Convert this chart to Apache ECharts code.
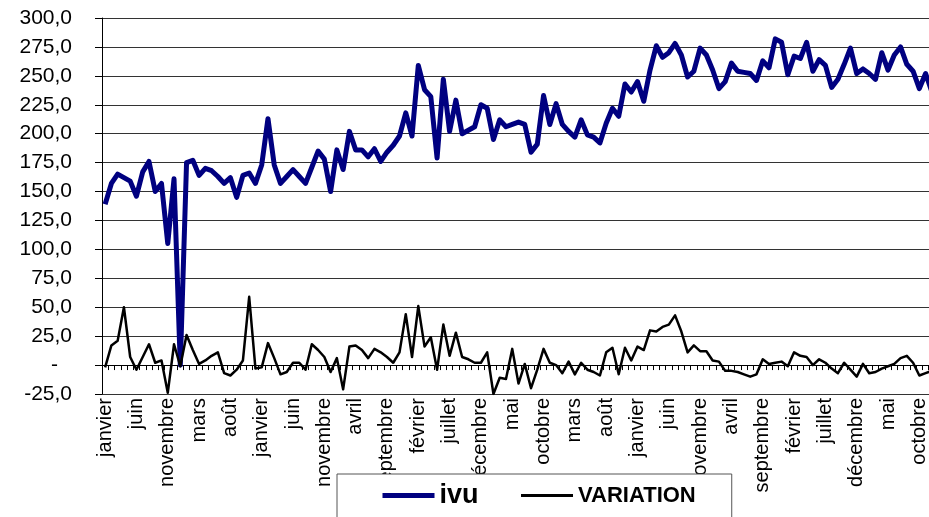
<!DOCTYPE html>
<html>
<head>
  <meta charset="UTF-8">
  <title>ivu / VARIATION</title>
  <style>
    html, body { margin: 0; padding: 0; background: #fff; }
    #chart { width: 929px; height: 517px; }
  </style>
  <script src="https://cdn.jsdelivr.net/npm/echarts@6/dist/echarts.min.js"></script>
</head>
<body>
<div id="chart"></div>
<script>
  // mois (une entrée de plus la première année, comme dans la feuille d'origine)
  var categories = [
    'janvier', 'février', 'mars', 'avril', 'mai', 'juin', 'juillet', 'août', 'septembre', 'octobre', 'novembre', 'décembre', 'décembre',
    'janvier', 'février', 'mars', 'avril', 'mai', 'juin', 'juillet', 'août', 'septembre', 'octobre', 'novembre', 'décembre',
    'janvier', 'février', 'mars', 'avril', 'mai', 'juin', 'juillet', 'août', 'septembre', 'octobre', 'novembre', 'décembre',
    'janvier', 'février', 'mars', 'avril', 'mai', 'juin', 'juillet', 'août', 'septembre', 'octobre', 'novembre', 'décembre',
    'janvier', 'février', 'mars', 'avril', 'mai', 'juin', 'juillet', 'août', 'septembre', 'octobre', 'novembre', 'décembre',
    'janvier', 'février', 'mars', 'avril', 'mai', 'juin', 'juillet', 'août', 'septembre', 'octobre', 'novembre', 'décembre',
    'janvier', 'février', 'mars', 'avril', 'mai', 'juin', 'juillet', 'août', 'septembre', 'octobre', 'novembre', 'décembre',
    'janvier', 'février', 'mars', 'avril', 'mai', 'juin', 'juillet', 'août', 'septembre', 'octobre', 'novembre', 'décembre',
    'janvier', 'février', 'mars', 'avril', 'mai', 'juin', 'juillet', 'août', 'septembre', 'octobre', 'novembre', 'décembre',
    'janvier', 'février', 'mars', 'avril', 'mai', 'juin', 'juillet', 'août', 'septembre', 'octobre', 'novembre', 'décembre',
    'janvier', 'février', 'mars', 'avril', 'mai', 'juin', 'juillet', 'août', 'septembre', 'octobre', 'novembre', 'décembre'
  ];

  var ivu = [
    139, 157, 165, 162, 159, 146, 167, 176, 150, 157,
    105, 161, 0, 175, 177, 164, 170, 168, 163, 157,
    162, 145, 164, 166, 157, 173, 213, 173, 157, 163,
    169, 163, 157, 171, 185, 178, 150, 186, 169, 202,
    186, 186, 180, 187, 176, 184, 190, 198, 218, 198,
    259, 238, 232, 179, 247, 202, 229, 200, 203, 206,
    225, 222, 195, 212, 206, 208, 210, 208, 184, 191,
    233, 208, 226, 208, 202, 197, 212, 199, 197, 192,
    209, 222, 215, 243, 236, 245, 228, 255, 276, 266,
    270, 278, 268, 249, 254, 274, 268, 255, 239, 245,
    261, 254, 253, 252, 246, 263, 257, 282, 279, 251,
    267, 265, 279, 254, 264, 259, 240, 247, 260, 274,
    252, 256, 252, 247, 270, 255, 268, 275, 260, 254,
    239, 252, 236
  ];

  var variation = [
    -2, 17, 21, 50, 7, -4, 7, 18, 2, 4,
    -24, 18, -1, 26, 13, 1, 4, 8, 11, -7,
    -9, -4, 4, 59, -3, -2, 19, 6, -8, -6,
    2, 2, -4, 18, 13, 7, -6, 6, -21, 16,
    17, 13, 6, 14, 11, 7, 2, 11, 44, 7,
    51, 16, 24, -4, 35, 8, 28, 7, 5, 2,
    2, 11, -25, -11, -12, 14, -16, 1, -20, -4,
    14, 2, 0, -7, 3, -8, 2, -4, -6, -9,
    11, 15, -8, 15, 4, 16, 13, 30, 29, 33,
    35, 43, 29, 11, 17, 12, 12, 4, 3, -5,
    -5, -6, -8, -10, -8, 5, 1, 2, 3, -1,
    11, 8, 7, 0, 5, 2, -3, -7, 2, -4,
    -10, 1, -7, -6, -3, -1, 1, 6, 8, 2,
    -9, -7, -5
  ];

  var font = 'Liberation Sans, Arial, sans-serif';
  var chart = echarts.init(document.getElementById('chart'));

  var option = {
    animation: false,
    backgroundColor: '#fff',
    textStyle: { fontFamily: font },
    // la zone de tracé déborde un peu à droite de l'image
    grid: { left: 102, width: 833, top: 18, bottom: 123, outerBoundsMode: 'none', containLabel: false },
    legend: {
      left: 337,
      top: 474,
      padding: [8, 36, 30, 43],
      itemGap: 41,
      itemWidth: 52,
      itemHeight: 14,
      borderColor: '#555',
      borderWidth: 1,
      borderRadius: 0,
      backgroundColor: '#fff',
      // pas de marqueur, seulement le trait
      itemStyle: { opacity: 0 },
      data: [
        { name: 'ivu', lineStyle: { width: 5 } },
        { name: 'VARIATION', lineStyle: { width: 3 } }
      ],
      formatter: function (name) {
        return name === 'ivu' ? '{a|ivu}' : '{b|VARIATION}';
      },
      textStyle: {
        fontFamily: font,
        color: '#000',
        rich: {
          a: { fontSize: 27, fontWeight: 'bold', fontFamily: font, color: '#000' },
          b: { fontSize: 22, fontWeight: 'bold', fontFamily: font, color: '#000' }
        }
      }
    },
    xAxis: [{
      type: 'category',
      data: categories,
      position: 'bottom',
      boundaryGap: true,
      axisLine: { show: false, onZero: false },
      axisTick: { show: false },
      splitLine: { show: false },
      axisLabel: {
        interval: 4,
        rotate: 90,
        margin: 4,
        fontSize: 20,
        fontFamily: font,
        color: '#000'
      }
    }, {
      // axe des abscisses qui croise à zéro, avec ses graduations
      type: 'category',
      data: categories,
      position: 'bottom',
      boundaryGap: true,
      axisLine: { show: true, onZero: true, lineStyle: { color: '#000', width: 1 } },
      axisTick: { show: true, interval: 0, length: 5, lineStyle: { color: '#000' } },
      axisLabel: { show: false },
      splitLine: { show: false }
    }],
    yAxis: {
      type: 'value',
      min: -25,
      max: 300,
      interval: 25,
      axisLine: { show: true, lineStyle: { color: '#000', width: 1 } },
      axisTick: { show: true, length: 7, lineStyle: { color: '#000' } },
      splitLine: { show: true, lineStyle: { color: '#333', width: 1 } },
      axisLabel: {
        margin: 30,
        fontSize: 21,
        fontFamily: font,
        color: '#000',
        formatter: function (v) {
          if (v === 0) return '{z|-}';
          return v.toFixed(1).replace('.', ',');
        },
        rich: {
          z: { fontSize: 21, fontFamily: font, color: '#000', padding: [0, 14, 0, 0] }
        }
      }
    },
    series: [{
      name: 'ivu',
      type: 'line',
      xAxisIndex: 0,
      data: ivu,
      symbol: 'none',
      showSymbol: false,
      lineStyle: { color: '#000080', width: 5, join: 'round' },
      itemStyle: { color: '#000080' }
    }, {
      name: 'VARIATION',
      type: 'line',
      xAxisIndex: 0,
      data: variation,
      symbol: 'none',
      showSymbol: false,
      lineStyle: { color: '#000', width: 2.5, join: 'round' },
      itemStyle: { color: '#000' }
    }]
  };

  chart.setOption(option);
</script>
</body>
</html>
